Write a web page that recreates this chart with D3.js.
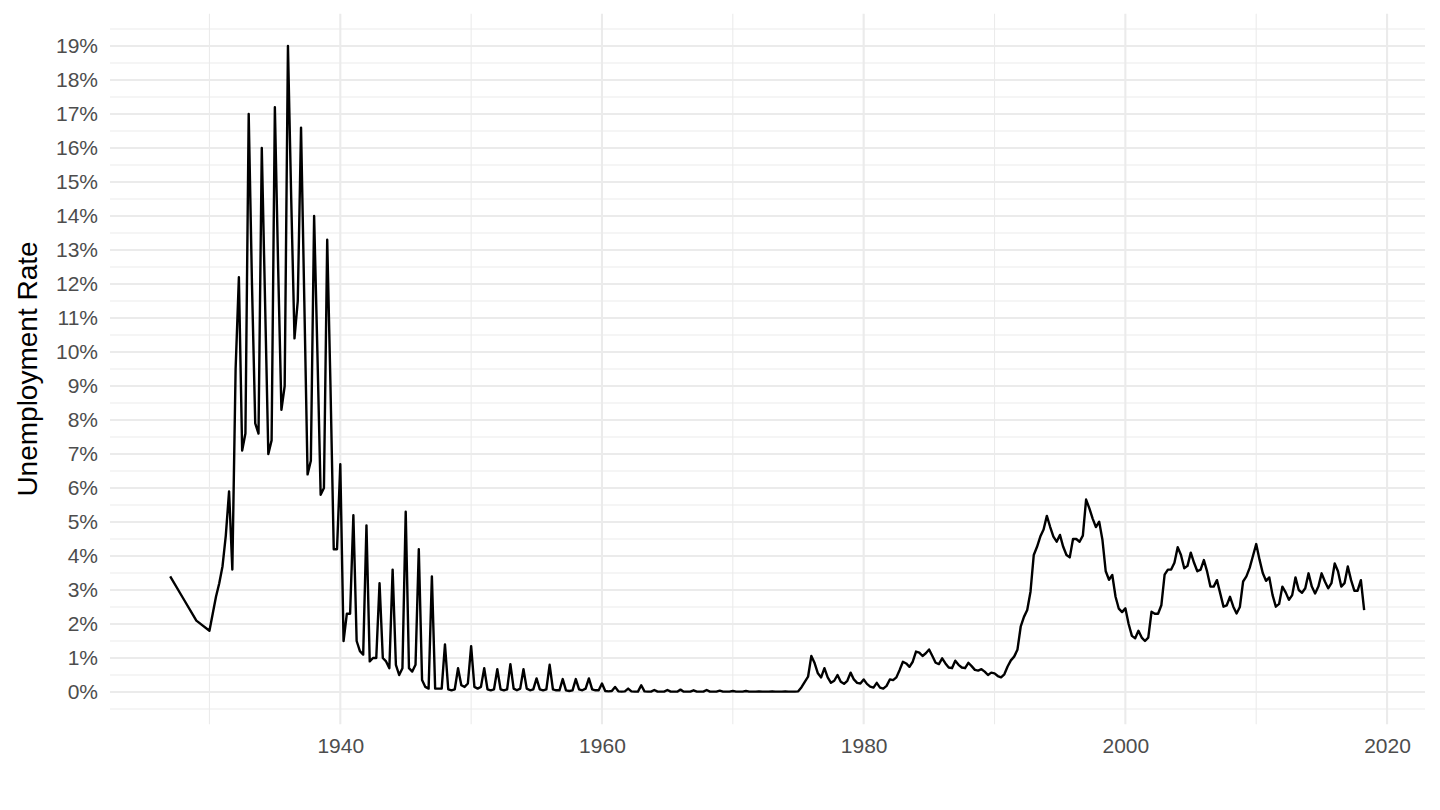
<!DOCTYPE html>
<html>
<head>
<meta charset="utf-8">
<script src="https://cdn.jsdelivr.net/npm/d3@7"></script>
<style>
  html, body { margin: 0; padding: 0; background: #ffffff; }
  svg { display: block; }
  text { font-family: "Liberation Sans", Arial, Helvetica, sans-serif; }
</style>
</head>
<body>
<svg id="chart" width="1440" height="810"></svg>
<script>
// ---- data ----
const annualYears = [1927, 1928, 1929];
const annualValues = [3.4, 2.75, 2.1];

const quarterlyStartYear = 1930; // first value is 1930 Q1, then one value per quarter
const quarterlyValues = [
  1.8, 2.3, 2.8, 3.2,      // 1930
  3.7, 4.6, 5.9, 3.6,      // 1931
  9.5, 12.2, 7.1, 7.6,     // 1932
  17.0, 12.0, 7.9, 7.6,    // 1933
  16.0, 11.5, 7.0, 7.4,    // 1934
  17.2, 12.5, 8.3, 9.0,    // 1935
  19.0, 14.5, 10.4, 11.5,  // 1936
  16.6, 11.5, 6.4, 6.8,    // 1937
  14.0, 10.0, 5.8, 6.0,    // 1938
  13.3, 9.0, 4.2, 4.2,     // 1939
  6.7, 1.5, 2.3, 2.3,      // 1940
  5.2, 1.5, 1.2, 1.1,      // 1941
  4.9, 0.9, 1.0, 1.0,      // 1942
  3.2, 1.0, 0.9, 0.7,      // 1943
  3.6, 0.8, 0.5, 0.7,      // 1944
  5.3, 0.7, 0.6, 0.8,      // 1945
  4.2, 0.35, 0.15, 0.1,    // 1946
  3.4, 0.1, 0.1, 0.1,      // 1947
  1.4, 0.08, 0.05, 0.08,   // 1948
  0.7, 0.2, 0.15, 0.25,    // 1949
  1.35, 0.15, 0.1, 0.15,   // 1950
  0.7, 0.08, 0.05, 0.08,   // 1951
  0.67, 0.08, 0.05, 0.08,  // 1952
  0.82, 0.1, 0.05, 0.1,    // 1953
  0.67, 0.1, 0.05, 0.08,   // 1954
  0.4, 0.08, 0.05, 0.08,   // 1955
  0.8, 0.08, 0.05, 0.05,   // 1956
  0.38, 0.05, 0.03, 0.05,  // 1957
  0.38, 0.08, 0.05, 0.1,   // 1958
  0.4, 0.08, 0.05, 0.05,   // 1959
  0.25, 0.03, 0.02, 0.03,  // 1960
  0.15, 0.02, 0.01, 0.02,  // 1961
  0.1, 0.02, 0.01, 0.01,   // 1962
  0.2, 0.02, 0.01, 0.01,   // 1963
  0.06, 0.01, 0.01, 0.01,  // 1964
  0.06, 0.01, 0.01, 0.01,  // 1965
  0.07, 0.01, 0.01, 0.01,  // 1966
  0.05, 0.01, 0.01, 0.01,  // 1967
  0.06, 0.01, 0.01, 0.01,  // 1968
  0.04, 0.01, 0.01, 0.01,  // 1969
  0.03, 0.01, 0.01, 0.01,  // 1970
  0.03, 0.01, 0.01, 0.01,  // 1971
  0.02, 0.01, 0.01, 0.01,  // 1972
  0.02, 0.01, 0.01, 0.01,  // 1973
  0.02, 0.01, 0.01, 0.01,  // 1974
  0.02, 0.14, 0.3, 0.45,   // 1975
  1.06, 0.85, 0.55, 0.43,  // 1976
  0.7, 0.43, 0.27, 0.33,   // 1977
  0.5, 0.3, 0.24, 0.33,    // 1978
  0.57, 0.37, 0.27, 0.25,  // 1979
  0.37, 0.24, 0.16, 0.13,  // 1980
  0.27, 0.13, 0.1, 0.18,   // 1981
  0.37, 0.35, 0.43, 0.65,  // 1982
  0.89, 0.84, 0.74, 0.89,  // 1983
  1.19, 1.16, 1.06, 1.14,  // 1984
  1.25, 1.06, 0.86, 0.82,  // 1985
  0.99, 0.84, 0.72, 0.7,   // 1986
  0.92, 0.8, 0.72, 0.7,    // 1987
  0.86, 0.76, 0.65, 0.63,  // 1988
  0.67, 0.6, 0.5, 0.57,    // 1989
  0.55, 0.47, 0.43, 0.52,  // 1990
  0.75, 0.93, 1.04, 1.24,  // 1991
  1.92, 2.21, 2.41, 2.95,  // 1992
  4.03, 4.27, 4.57, 4.78,  // 1993
  5.18, 4.86, 4.57, 4.42,  // 1994
  4.62, 4.27, 4.03, 3.96,  // 1995
  4.5, 4.5, 4.42, 4.6,     // 1996
  5.66, 5.4, 5.1, 4.85,    // 1997
  5.01, 4.47, 3.55, 3.3,   // 1998
  3.44, 2.8, 2.45, 2.35,   // 1999
  2.46, 2.0, 1.65, 1.58,   // 2000
  1.8, 1.6, 1.5, 1.6,      // 2001
  2.36, 2.3, 2.3, 2.55,    // 2002
  3.45, 3.6, 3.6, 3.8,     // 2003
  4.26, 4.03, 3.64, 3.71,  // 2004
  4.1, 3.8, 3.55, 3.6,     // 2005
  3.88, 3.54, 3.1, 3.1,    // 2006
  3.29, 2.9, 2.51, 2.55,   // 2007
  2.8, 2.51, 2.31, 2.5,    // 2008
  3.25, 3.4, 3.65, 4.0,    // 2009
  4.35, 3.9, 3.5, 3.27,    // 2010
  3.37, 2.85, 2.51, 2.59,  // 2011
  3.1, 2.93, 2.71, 2.85,   // 2012
  3.37, 3.0, 2.92, 3.05,   // 2013
  3.49, 3.1, 2.9, 3.1,     // 2014
  3.49, 3.25, 3.05, 3.2,   // 2015
  3.78, 3.55, 3.1, 3.2,    // 2016
  3.69, 3.29, 2.98, 2.98,  // 2017
  3.29, 2.41               // 2018
];

const xTickYears = [1940, 1960, 1980, 2000, 2020];
const xMinorYears = [1930, 1950, 1970, 1990, 2010];
const yTickValues = d3.range(0, 20, 1);          // 0% .. 19%
const yMinorValues = d3.range(-0.5, 20, 1);      // half steps
const yTitle = "Unemployment Rate";

// ---- build series ----
const series = annualYears.map((yr, i) => ({ t: yr, v: annualValues[i] }))
  .concat(quarterlyValues.map((v, i) => ({ t: quarterlyStartYear + i / 4, v })));

// ---- layout ----
const panel = { left: 110, right: 1425, top: 13.7, bottom: 724.3 };

const x = d3.scaleLinear().domain([1922.4, 2022.9]).range([panel.left, panel.right]);
const y = d3.scaleLinear().domain([-0.95, 19.95]).range([panel.bottom, panel.top]);

const svg = d3.select("#chart");
const grid = svg.append("g");
const GRID = "#ebebeb";
const FONT = '"Liberation Sans", Arial, Helvetica, sans-serif';

// minor grid
grid.selectAll("line.ymin").data(yMinorValues).join("line")
  .attr("x1", panel.left).attr("x2", panel.right)
  .attr("y1", d => y(d)).attr("y2", d => y(d))
  .attr("stroke", GRID).attr("stroke-width", 1.1);
grid.selectAll("line.xmin").data(xMinorYears).join("line")
  .attr("y1", panel.top).attr("y2", panel.bottom)
  .attr("x1", d => x(d)).attr("x2", d => x(d))
  .attr("stroke", GRID).attr("stroke-width", 1.1);
// major grid
grid.selectAll("line.ymaj").data(yTickValues).join("line")
  .attr("x1", panel.left).attr("x2", panel.right)
  .attr("y1", d => y(d)).attr("y2", d => y(d))
  .attr("stroke", GRID).attr("stroke-width", 2.1);
grid.selectAll("line.xmaj").data(xTickYears).join("line")
  .attr("y1", panel.top).attr("y2", panel.bottom)
  .attr("x1", d => x(d)).attr("x2", d => x(d))
  .attr("stroke", GRID).attr("stroke-width", 2.1);

// axes
const yAxis = d3.axisLeft(y).tickValues(yTickValues).tickFormat(d => d + "%").tickSize(0).tickPadding(12);
const gy = svg.append("g").attr("transform", `translate(${panel.left},0)`).call(yAxis);
gy.select(".domain").remove();
gy.selectAll("text").attr("fill", "#4d4d4d").style("font-size", "21px").style("font-family", FONT);

const xAxis = d3.axisBottom(x).tickValues(xTickYears).tickFormat(d3.format("d")).tickSize(0).tickPadding(14);
const gx = svg.append("g").attr("transform", `translate(0,${panel.bottom})`).call(xAxis);
gx.select(".domain").remove();
gx.selectAll("text").attr("fill", "#4d4d4d").style("font-size", "21px").style("font-family", FONT);

// y title
svg.append("text")
  .attr("transform", `translate(37,${(panel.top + panel.bottom) / 2}) rotate(-90)`)
  .attr("text-anchor", "middle")
  .attr("fill", "#000000")
  .style("font-size", "28px")
  .style("font-family", FONT)
  .text(yTitle);

// line
const line = d3.line().x(d => x(d.t)).y(d => y(d.v));
svg.append("path")
  .datum(series)
  .attr("d", line)
  .attr("fill", "none")
  .attr("stroke", "#000000")
  .attr("stroke-width", 2.4)
  .attr("stroke-linejoin", "round");
</script>
</body>
</html>
